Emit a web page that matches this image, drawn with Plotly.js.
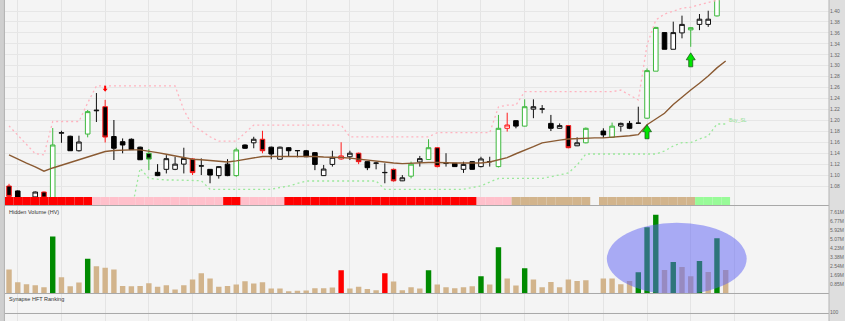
<!DOCTYPE html>
<html>
<head>
<meta charset="utf-8">
<script src="https://cdn.plot.ly/plotly-3.0.1.min.js"></script>
<style>html,body{margin:0;padding:0;background:#dedede;}#chart{width:845px;height:321px;}</style>
</head>
<body>
<div id="chart"></div>
<script>
// ---- data (trading-day index 0..82, slot 67 has no trading) ----
const days = [];
for (let i = 0; i < 83; i++) days.push(i);

const openP = [1.080,1.071,1.057,1.060,1.069,1.055,1.1765,1.171,1.1445,1.175,
1.2175,1.225,1.1705,1.161,1.1655,1.151,1.1398,1.105,1.1105,1.1105,
1.120,1.1295,1.1163,1.1105,1.099,1.120,1.099,1.155,1.159,1.1655,
1.151,1.129,1.150,1.1445,1.1445,1.141,1.099,1.1195,1.1295,1.1335,
1.140,1.1245,1.1215,1.1043,1.1105,1.0895,1.098,1.124,1.1285,1.150,
1.1215,1.1215,1.1105,1.1245,1.1155,1.1243,1.1155,1.1855,1.1995,1.1895,
1.2205,1.2205,1.1945,1.1855,1.1905,1.1535,1.159,null,1.1805,1.169,
1.1895,1.1945,1.1945,1.204,1.290,1.3605,1.330,1.360,1.3655,1.3755,
1.3755,1.391,1.432];
const highP = [1.084,1.072,1.059,1.070,1.070,1.186,1.181,1.172,1.172,1.219,
1.250,1.2375,1.2007,1.167,1.167,1.152,1.1475,1.120,1.1365,1.1335,
1.150,1.131,1.1305,1.111,1.1165,1.129,1.150,1.156,1.170,1.181,
1.152,1.152,1.151,1.1458,1.146,1.142,1.1185,1.1445,1.160,1.1445,
1.141,1.125,1.1245,1.1215,1.112,1.100,1.1245,1.135,1.1655,1.151,
1.140,1.122,1.1245,1.125,1.1335,1.1335,1.210,1.214,1.200,1.2385,
1.2385,1.228,1.210,1.1945,1.191,1.169,1.187,null,1.1855,1.196,
1.196,1.199,1.225,1.295,1.371,1.361,1.3805,1.3915,1.370,1.3945,
1.4005,1.432,1.46];
const lowP = [1.052,1.052,1.050,1.055,1.055,1.050,1.159,1.144,1.143,1.169,
1.197,1.1595,1.1275,1.1398,1.147,1.128,1.109,1.098,1.103,1.109,
1.103,1.100,1.100,1.085,1.0935,1.098,1.097,1.148,1.149,1.1398,
1.129,1.128,1.1335,1.1325,1.133,1.109,1.0985,1.1155,1.128,1.1275,
1.120,1.109,1.1105,1.085,1.088,1.089,1.094,1.1155,1.128,1.114,
1.1155,1.115,1.104,1.110,1.114,1.1155,1.114,1.1795,1.1855,1.189,
1.204,1.213,1.1805,1.185,1.149,1.153,1.158,null,1.168,1.169,
1.1795,1.184,1.1945,1.203,1.290,1.330,1.330,1.350,1.3345,1.365,
1.371,1.390,1.428];
const closeP = [1.061,1.059,1.054,1.069,1.058,1.155,1.1775,1.1445,1.1605,1.216,
1.2185,1.1695,1.149,1.155,1.1465,1.128,1.1292,1.099,1.130,1.120,
1.1305,1.1045,1.117,1.100,1.1155,1.099,1.146,1.149,1.1655,1.1445,
1.1385,1.151,1.1445,1.1448,1.1335,1.1195,1.111,1.1325,1.135,1.140,
1.1245,1.1135,1.122,1.1048,1.0895,1.095,1.120,1.130,1.150,1.1155,
1.122,1.1155,1.1195,1.1105,1.1295,1.1248,1.1855,1.1915,1.1895,1.225,
1.225,1.221,1.1855,1.1905,1.150,1.159,1.1855,null,1.1735,1.1895,
1.1945,1.1855,1.195,1.291,1.370,1.330,1.3605,1.3755,1.3695,1.385,
1.385,1.428,1.455];
// candle body/border category: k=black, w=white, gw/gk=green border, rk/rw=red border
const candleKind = ['rk','k','k','w','rk','gw','w','k','w','gw',
'w','rk','k','k','k','k','gk','k','w','w',
'w','rk','w','k','w','k','gw','k','w','rk',
'k','w','k','w','k','k','w','w','rw','w',
'rk','k','w','w','rk','w','gw','w','gw','rk',
'w','k','w','k','w','w','gw','rw','k','gw',
'w','w','k','w','rk','w','gw',null,'k','gw',
'w','k','w','gw','gw','k','w','w','gw','w',
'w','gw','gw'];

const movingAvg = [1.137,1.129,1.122,1.115,1.107,1.113,1.118,1.124,1.129,1.134,
1.139,1.143,1.145,1.146,1.146,1.146,1.144,1.141,1.138,1.135,
1.132,1.129,1.128,1.127,1.125,1.124,1.126,1.129,1.131,1.134,
1.134,1.134,1.135,1.135,1.134,1.134,1.133,1.133,1.132,1.131,
1.129,1.128,1.125,1.123,1.122,1.121,1.122,1.122,1.123,1.123,
1.122,1.122,1.122,1.122,1.122,1.124,1.128,1.132,1.139,1.145,
1.152,1.159,1.162,1.164,1.166,1.167,1.167,1.168,1.168,1.169,
1.171,1.172,1.174,1.192,1.2025,1.213,1.229,1.243,1.2555,1.268,
1.281,1.296,1.3086];
const sellStop = [1.190,1.173,1.155,1.139,1.137,1.198,1.198,1.198,1.198,1.232,
1.263,1.263,1.263,1.263,1.263,1.263,1.263,1.263,1.263,1.263,
1.219,1.190,1.181,1.170,1.162,1.162,1.162,1.177,1.1915,1.1915,
1.1915,1.1915,1.1915,1.1915,1.1915,1.1915,1.1915,1.1915,1.1915,1.170,
1.170,1.170,1.170,1.170,1.170,1.170,1.170,1.170,1.170,1.1775,
1.1775,1.1775,1.1775,1.1775,1.1775,1.1775,1.2245,1.228,1.228,1.2524,
1.2524,1.2524,1.2524,1.2524,1.2524,1.2524,1.2524,1.2524,1.2524,1.2524,
1.2555,1.2464,1.2373,1.3378,1.3835,1.3945,1.400,1.405,1.407,1.411,
1.415,1.419,1.424];
const buyStop = [null,null,null,null,null,null,null,null,null,null,
null,null,null,null,1.034,1.1124,1.094,1.092,1.091,1.091,
1.091,1.091,1.0897,1.074,1.074,1.074,1.074,1.074,1.074,1.074,
1.074,1.0773,1.080,1.0846,1.0892,1.0892,1.0892,1.0892,1.0892,1.0892,
1.0892,1.0892,1.0892,1.074,1.074,1.074,1.074,1.074,1.074,1.074,
1.074,1.074,1.074,1.0773,1.080,1.0873,1.0937,1.094,1.094,1.094,
1.094,1.094,1.097,1.100,1.1038,1.1184,1.1385,1.1385,1.1385,1.1385,
1.1385,1.1385,1.1385,1.1385,1.1385,1.144,1.1532,1.1592,1.1592,1.166,
1.1714,1.1934,1.1934];

// hidden volume in millions
const hiddenVol = [2.23,1.05,0.87,0.77,0.59,5.32,1.52,0.68,1.02,3.25,
2.54,2.41,2.23,0.71,0.68,0.71,0.96,0.62,0.77,0.37,
0.77,1.30,1.89,1.39,0.62,0.71,0.83,1.14,0.93,1.05,
0.46,0.46,0.22,0.25,0.28,0.49,0.49,0.56,2.16,0.46,
0.62,0.43,0.31,1.89,1.11,0.31,0.59,0.46,2.16,0.83,
0.59,0.49,0.59,0.68,1.61,0.83,4.33,1.39,0.74,2.35,
1.30,0.59,1.08,0.59,1.30,1.17,1.24,null,1.39,1.39,
0.87,1.17,1.98,6.18,7.36,2.20,2.94,2.47,1.61,3.03,
2.01,5.16,2.20];
const volKind = ['t','t','t','t','t','g','t','t','t','g',
't','t','t','t','t','t','t','t','t','t',
't','t','t','t','t','t','t','t','t','t',
't','t','t','t','t','t','t','t','r','t',
't','t','t','r','t','t','t','t','g','t',
't','t','t','t','g','t','g','t','t','g',
't','t','t','t','t','t','t',null,'t','t',
't','t','g','g','g','t','g','t','t','g',
't','g','t'];
// trend strip state per day
const trendState = ['R','R','R','R','R','R','R','R','R','R',
'P','P','P','P','P','P','P','P','P','P',
'P','P','P','P','P','R','R','P','P','P',
'P','P','R','R','R','R','R','R','R','R',
'R','R','R','R','R','R','R','R','R','R',
'R','R','R','R','P','P','P','P','T','T',
'T','T','T','T','T','T','T',null,'T','T',
'T','T','T','T','T','T','T','T','T','G',
'G','G','G'];
const buySignals = [73, 78];
const sellSignals = [11];
const weekStarts = [1,6,11,16,21,26,30,34,39,44,49,54,59,64,68,73,78,83];
const priceTicks = [1.08,1.10,1.12,1.14,1.16,1.18,1.20,1.22,1.24,1.26,1.28,1.30,1.32,1.34,1.36,1.38,1.40,1.42];
const volTicks = [0.85,1.69,2.54,3.38,4.23,5.07,5.92,6.77,7.61];
const hftTicks = [100];

// ---- styles ----
const candleStyle = {
  k:{fill:'#000000', line:'#000000'},
  w:{fill:'#ffffff', line:'#111111'},
  gw:{fill:'#ffffff', line:'#3cb83c'},
  gk:{fill:'#000000', line:'#3cb83c'},
  rk:{fill:'#000000', line:'#ff1a1a'},
  rw:{fill:'#ffffff', line:'#ff1a1a'}
};
const volColor = {t:'#d2b48c', g:'#008a00', r:'#ff0000'};
const stripColor = {R:'#ff0000', P:'#ffc0cb', T:'#d2b48c', G:'#98fb98'};

const traces = [];
Object.keys(candleStyle).forEach(function(k){
  const idx = days.filter(function(i){ return candleKind[i] === k; });
  if (!idx.length) return;
  const st = candleStyle[k];
  traces.push({
    type:'candlestick', xaxis:'x', yaxis:'y',
    x: idx, open: idx.map(i=>openP[i]), high: idx.map(i=>highP[i]),
    low: idx.map(i=>lowP[i]), close: idx.map(i=>closeP[i]),
    increasing:{fillcolor:st.fill, line:{color:st.line, width:1}},
    decreasing:{fillcolor:st.fill, line:{color:st.line, width:1}},
    whiskerwidth:0, hoverinfo:'skip', showlegend:false
  });
});
traces.push({type:'scatter', mode:'lines', x:days, y:sellStop, yaxis:'y',
  line:{color:'#ffb3bf', width:1.3, dash:'2px,3px'}, hoverinfo:'skip', connectgaps:false});
traces.push({type:'scatter', mode:'lines', x:days, y:buyStop, yaxis:'y',
  line:{color:'#9be89b', width:1.3, dash:'2px,3px'}, hoverinfo:'skip'});
traces.push({type:'scatter', mode:'lines', x:days, y:movingAvg, yaxis:'y',
  line:{color:'#8a5a32', width:1.4}, hoverinfo:'skip'});
traces.push({type:'bar', x:days, y:hiddenVol, xaxis:'x', yaxis:'y2', width:0.62,
  marker:{color:volKind.map(k=>k ? volColor[k] : 'rgba(0,0,0,0)'), line:{width:0}},
  hoverinfo:'skip'});
traces.push({type:'scatter', mode:'lines', x:[0], y:[null], xaxis:'x', yaxis:'y3', hoverinfo:'skip'});

const shapes = [];
// trend strip
days.forEach(function(i){
  const s = trendState[i];
  if (!s) return;
  shapes.push({type:'rect', xref:'x', yref:'y domain', x0:i-0.5, x1:i+0.5, y0:0, y1:0.0414,
    fillcolor:stripColor[s], line:{width:0}, layer:'above'});
});
// signal arrows
buySignals.forEach(function(i){
  shapes.push({type:'path', xref:'x', yref:'y', xsizemode:'pixel', ysizemode:'pixel',
    xanchor:i, yanchor:lowP[i],
    path:'M0,-6 L4.5,-13 L2,-13 L2,-20 L-2,-20 L-2,-13 L-4.5,-13 Z',
    fillcolor:'#00e600', line:{color:'#1c5e1c', width:0.8}, layer:'above'});
});
sellSignals.forEach(function(i){
  shapes.push({type:'path', xref:'x', yref:'y', xsizemode:'pixel', ysizemode:'pixel',
    xanchor:i, yanchor:highP[i],
    path:'M0,8 L2.5,11 L1,11 L1,14 L-1,14 L-1,11 L-2.5,11 Z',
    fillcolor:'#ff0000', line:{width:0}, layer:'above'});
});
// highlight ellipse on the volume panel
shapes.push({type:'circle', xref:'x', yref:'y2', x0:68.4, x1:84.4, y0:-0.1, y1:6.6,
  fillcolor:'rgba(92,96,244,0.5)', line:{width:0}, layer:'above'});
// panel separators and frame
[0.3598, 0.0857, 0.0234].forEach(function(py){
  shapes.push({type:'line', xref:'paper', yref:'paper', x0:0, x1:1, y0:py, y1:py,
    line:{color:'#a8a8a8', width:1}, layer:'above'});
});
shapes.push({type:'line', xref:'paper', yref:'paper', x0:1, x1:1, y0:0, y1:1,
  line:{color:'#b4b4b4', width:1}, layer:'above'});
shapes.push({type:'rect', xref:'paper', yref:'paper', x0:-5/824, x1:-1/824, y0:0, y1:1,
  fillcolor:'#cfcfcf', line:{width:0}, layer:'above'});
shapes.push({type:'line', xref:'paper', yref:'paper', x0:-0.6/824, x1:-0.6/824, y0:0, y1:1,
  line:{color:'#b0b0b0', width:1}, layer:'above'});

const annotations = [
  {xref:'paper', yref:'y2 domain', x:0.003, y:1, xanchor:'left', yanchor:'top', yshift:-1,
   text:'Hidden Volume (HV)', showarrow:false, font:{size:5.5, color:'#333'}},
  {xref:'paper', yref:'y3 domain', x:0.003, y:1, xanchor:'left', yanchor:'top', yshift:-1,
   text:'Synapse HFT Ranking', showarrow:false, font:{size:5.5, color:'#333'}},
  {xref:'x', yref:'y', x:days[82], y:buyStop[82], xanchor:'left', yanchor:'bottom', xshift:1, yshift:-1,
   text:'Buy_SL', showarrow:false, font:{size:5, color:'#8fe08f'}}
];

const tickFont = {size:5, color:'#666', family:'Liberation Sans, Arial, sans-serif'};
const layout = {
  width:845, height:321, margin:{l:5, r:16, t:0, b:0, pad:0},
  paper_bgcolor:'#dedede', plot_bgcolor:'#f4f4f4', showlegend:false, boxgap:0.25,
  font:{family:'Liberation Sans, Arial, sans-serif', size:6, color:'#555'},
  xaxis:{range:[-0.46, 93.82], tickvals:weekStarts, showticklabels:false, ticks:'',
    showgrid:true, gridcolor:'#e4e4e4', zeroline:false, showline:false,
    rangeslider:{visible:false}, anchor:'y3', fixedrange:true},
  yaxis:{domain:[0.3598, 1], range:[1.04436, 1.42011], side:'right', anchor:'x',
    tickvals:priceTicks, ticktext:priceTicks.map(v=>v.toFixed(2)), ticks:'',
    showgrid:true, gridcolor:'#e6e6e6', zeroline:false, showline:false, tickfont:tickFont},
  yaxis2:{domain:[0.0857, 0.3598], range:[0, 8.22], side:'right', anchor:'x',
    tickvals:volTicks, ticktext:volTicks.map(v=>v.toFixed(2)+'M'), ticks:'',
    showgrid:false, zeroline:false, showline:false, tickfont:tickFont},
  yaxis3:{domain:[0, 0.0857], range:[91, 118.5], side:'right', anchor:'x',
    tickvals:hftTicks, ticktext:hftTicks.map(String), ticks:'',
    showgrid:false, zeroline:false, showline:false, tickfont:tickFont},
  shapes:shapes, annotations:annotations
};
Plotly.newPlot('chart', traces, layout, {displayModeBar:false, staticPlot:true});
</script>
</body>
</html>
